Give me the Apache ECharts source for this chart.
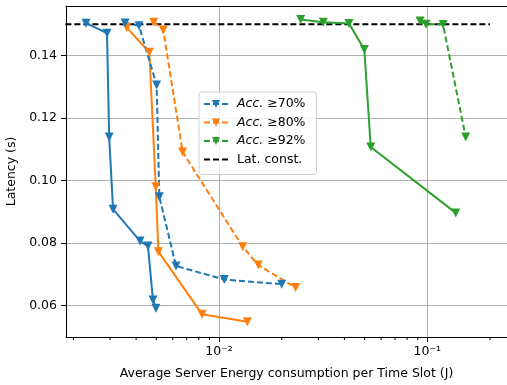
<!DOCTYPE html>
<html>
<head>
<meta charset="utf-8">
<script src="https://cdn.jsdelivr.net/npm/echarts@6/dist/echarts.min.js"></script>
<style>html,body{margin:0;padding:0;background:#fff}#c{width:507px;height:385px}</style>
</head>
<body>
<div id="c"></div>
<script>
// ---- data (energy J, latency s) ----
const blueSolidX  = [0.00230, 0.00290, 0.00297, 0.00310, 0.00418, 0.00456, 0.00482, 0.00498];
const blueSolidY  = [0.1503, 0.1471, 0.1139, 0.0908, 0.0806, 0.0790, 0.0617, 0.0591];
const blueDashX   = [0.00354, 0.00413, 0.00502, 0.00517, 0.00622, 0.01060, 0.0200];
const blueDashY   = [0.1504, 0.1495, 0.1305, 0.0948, 0.0726, 0.0683, 0.0668];
const orangeSolidX = [0.00361, 0.00463, 0.00497, 0.00512, 0.00829, 0.01368];
const orangeSolidY = [0.1489, 0.1410, 0.0980, 0.0772, 0.0572, 0.0548];
const orangeDashX  = [0.00486, 0.00540, 0.00669, 0.01299, 0.01544, 0.02334];
const orangeDashY  = [0.1506, 0.1481, 0.1091, 0.0788, 0.0729, 0.0657];
const greenSolidX  = [0.02467, 0.03168, 0.04208, 0.04984, 0.05351, 0.1369];
const greenSolidY  = [0.1515, 0.1506, 0.1502, 0.1419, 0.1107, 0.0896];
const greenDashX   = [0.0923, 0.0986, 0.1190, 0.1528];
const greenDashY   = [0.1510, 0.1500, 0.1499, 0.1139];
const latConstX = [0.0015, 0.2];
const latConstY = [0.15, 0.15];
const legendNames = ['Acc. ≥70%', 'Acc. ≥80%', 'Acc. ≥92%', 'Lat. const.'];
const yTicks = [0.06, 0.08, 0.10, 0.12, 0.14];
const xMinorTicks = [0.002,0.003,0.004,0.005,0.006,0.007,0.008,0.009,0.02,0.03,0.04,0.05,0.06,0.07,0.08,0.09,0.2];

const X_MIN = 0.001843, X_MAX = 0.2413, Y_MIN = 0.0499, Y_MAX = 0.1558;
const zip = (xs, ys) => xs.map((x, i) => [x, ys[i]]);
const FONT = 'DejaVu Sans';
const FS = 12.5;
const C = {blue: '#1f77b4', orange: '#ff7f0e', green: '#2ca02c'};

function lineSeries(name, xs, ys, color, dashed) {
  return {
    type: 'line', name: name, data: zip(xs, ys),
    symbol: 'triangle', symbolRotate: 180, symbolSize: 9,
    showSymbol: true,
    itemStyle: {color: color},
    lineStyle: {color: color, width: 2, type: dashed ? [6, 3] : 'solid'},
    emphasis: {disabled: true}, animation: false, z: 3
  };
}

const chart = echarts.init(document.getElementById('c'), null, {renderer: 'canvas'});
const option = {
  animation: false,
  backgroundColor: '#fff',
  textStyle: {fontFamily: FONT},
  grid: {left: 66, right: 0, top: 6, bottom: 48, containLabel: false, outerBoundsMode: 'none'},
  legend: {
    data: [
      {name: legendNames[0]}, {name: legendNames[1]}, {name: legendNames[2]},
      {name: legendNames[3], itemStyle: {opacity: 0}}
    ],
    orient: 'vertical', left: 199, top: 92,
    itemWidth: 24, itemHeight: 10, itemGap: 4.5,
    padding: [5, 11, 8, 4],
    backgroundColor: 'rgba(255,255,255,0.8)', borderColor: '#d0d0d0', borderWidth: 1, borderRadius: 3,
    textStyle: {fontFamily: FONT, fontSize: FS, lineHeight: 14, color: '#000', padding: [0, 0, 0, 4],
      rich: {i: {fontStyle: 'italic', fontFamily: FONT, fontSize: FS, lineHeight: 14, color: '#000'}}},
    formatter: function (n) { return n.indexOf('Acc.') === 0 ? '{i|Acc.} ' + n.slice(5) : n; }
  },
  xAxis: [{
    type: 'log', logBase: 10, min: X_MIN, max: X_MAX,
    name: 'Average Server Energy consumption per Time Slot (J)',
    nameLocation: 'middle', nameGap: 30,
    nameTextStyle: {fontFamily: FONT, fontSize: FS, color: '#000'},
    axisLine: {show: true, onZero: false, lineStyle: {color: '#000', width: 1}},
    axisTick: {show: true, length: 5, lineStyle: {color: '#000'}},
    axisLabel: {fontFamily: FONT, fontSize: FS, color: '#000', margin: 8,
      showMinLabel: false, showMaxLabel: false,
      formatter: function (v) {
        const e = Math.round(Math.log10(v));
        if (Math.abs(Math.log10(v) - e) > 1e-6) return '';
        return '10' + (e < 0 ? '⁻' : '') + String(Math.abs(e)).split('').map(d => '⁰¹²³⁴⁵⁶⁷⁸⁹'[+d]).join('');
      }},
    splitLine: {show: true, lineStyle: {color: '#b0b0b0', width: 1}},
    minorTick: {show: false}
  }, {
    type: 'log', logBase: 10, min: X_MIN, max: X_MAX, position: 'top',
    axisLine: {show: true, lineStyle: {color: '#000', width: 1}},
    axisTick: {show: false}, axisLabel: {show: false}, splitLine: {show: false}
  }],
  yAxis: {
    type: 'value', min: Y_MIN, max: Y_MAX, splitNumber: 5,
    name: 'Latency (s)', nameLocation: 'middle', nameGap: 38,
    nameTextStyle: {fontFamily: FONT, fontSize: FS, color: '#000'},
    axisLine: {show: true, onZero: false, lineStyle: {color: '#000', width: 1}},
    axisTick: {show: true, length: 5, lineStyle: {color: '#000'}},
    axisLabel: {fontFamily: FONT, fontSize: FS, color: '#000', margin: 9,
      showMinLabel: false, showMaxLabel: false,
      formatter: function (v) {
        for (const t of yTicks) if (Math.abs(v - t) < 1e-9) return t.toFixed(2);
        return '';
      }},
    splitLine: {show: true, lineStyle: {color: '#b0b0b0', width: 1}}
  },
  series: [
    lineSeries('', blueSolidX, blueSolidY, C.blue, false),
    lineSeries('', orangeSolidX, orangeSolidY, C.orange, false),
    lineSeries('', greenSolidX, greenSolidY, C.green, false),
    lineSeries(legendNames[0], blueDashX, blueDashY, C.blue, true),
    lineSeries(legendNames[1], orangeDashX, orangeDashY, C.orange, true),
    lineSeries(legendNames[2], greenDashX, greenDashY, C.green, true),
    {
      type: 'line', name: legendNames[3], data: zip(latConstX, latConstY),
      symbol: 'none', showSymbol: false, clip: true,
      lineStyle: {color: '#000', width: 2, type: [6, 3]}, itemStyle: {color: '#000'},
      emphasis: {disabled: true}, z: 2
    },
    {
      type: 'custom', name: 'minorTicks', silent: true, clip: false, z: 5,
      data: xMinorTicks.map(v => [v, Y_MIN]),
      renderItem: function (params, api) {
        const p = api.coord([api.value(0), api.value(1)]);
        return {type: 'line', shape: {x1: p[0], y1: p[1], x2: p[0], y2: p[1] + 3},
          style: {stroke: '#000', lineWidth: 1}};
      }
    }
  ]
};
chart.setOption(option);
</script>
</body>
</html>
